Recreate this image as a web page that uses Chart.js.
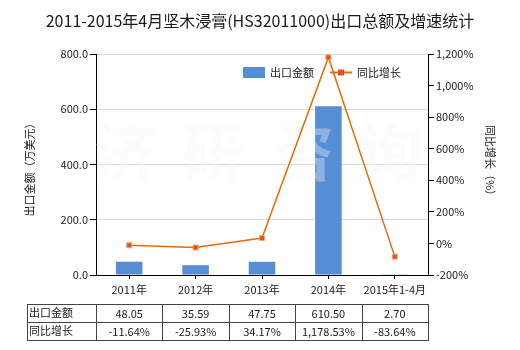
<!DOCTYPE html>
<html>
<head>
<meta charset="utf-8">
<script src="https://cdn.jsdelivr.net/npm/chart.js@4.4.0/dist/chart.umd.min.js"></script>
<style>
  html, body { margin: 0; padding: 0; background: #fff; }
</style>
</head>
<body>
<canvas id="exportChart" width="520" height="350"></canvas>
<script>
const categories = ['2011年', '2012年', '2013年', '2014年', '2015年1-4月'];
const exportValues = [48.05, 35.59, 47.75, 610.50, 2.70];
const growthRates = [-11.64, -25.93, 34.17, 1178.53, -83.64];
const rowNames = ['出口金额', '同比增长'];

const FONT = "'Microsoft YaHei', 'Noto Sans CJK SC', sans-serif";
const BAR_COLOR = '#558ED5';
const LINE_COLOR = '#E46C0A';
const TEXT_COLOR = '#1a1a1a';

function fmtGrowth(v) {
    return v.toLocaleString('en-US', { minimumFractionDigits: 2, maximumFractionDigits: 2 }) + '%';
}

// Title, axis titles, legend, watermark and the data table under the axis
const decorPlugin = {
    id: 'decor',
    afterDatasetDraw(chart, args) {
        if (args.index !== 0) return;
        const ctx = chart.ctx;
        ctx.save();
        ctx.font = 'bold 62px ' + FONT;
        ctx.fillStyle = 'rgba(245, 245, 245, 0.35)';
        ctx.textAlign = 'center';
        ctx.textBaseline = 'middle';
        const marks = ['济', '研', '咨', '询'];
        const xs = [125, 213, 303, 390];
        marks.forEach((m, i) => ctx.fillText(m, xs[i], 152));
        ctx.restore();
    },
    afterDraw(chart) {
        const ctx = chart.ctx;
        const xScale = chart.scales.x;
        ctx.save();

        // title
        ctx.fillStyle = TEXT_COLOR;
        ctx.font = '16px ' + FONT;
        ctx.textAlign = 'center';
        ctx.textBaseline = 'middle';
        ctx.fillText('2011-2015年4月坚木浸膏(HS32011000)出口总额及增速统计', 260, 21);

        // axis titles
        ctx.font = '11px ' + FONT;
        ctx.save();
        ctx.translate(30, 167);
        ctx.rotate(-Math.PI / 2);
        ctx.fillText('出口金额（万美元）', 0, 0);
        ctx.restore();
        ctx.save();
        ctx.translate(490, 163);
        ctx.rotate(Math.PI / 2);
        ctx.fillText('同比增长（%）', 0, 0);
        ctx.restore();

        // legend
        ctx.textAlign = 'left';
        ctx.fillStyle = BAR_COLOR;
        ctx.fillRect(243, 67, 22, 11);
        ctx.fillStyle = TEXT_COLOR;
        ctx.fillText(chart.data.datasets[0].label, 270, 73);
        ctx.strokeStyle = LINE_COLOR;
        ctx.lineWidth = 2;
        ctx.beginPath();
        ctx.moveTo(330, 72.5);
        ctx.lineTo(352, 72.5);
        ctx.stroke();
        ctx.fillStyle = '#E5501A';
        ctx.fillRect(338, 69.5, 6, 6);
        ctx.fillStyle = TEXT_COLOR;
        ctx.fillText(chart.data.datasets[1].label, 357, 73);

        // data table
        const half = (xScale.getPixelForValue(1) - xScale.getPixelForValue(0)) / 2;
        const left = 27;
        const right = Math.round(xScale.getPixelForValue(categories.length - 1) + half);
        const rows = [304, 322, 340];
        ctx.strokeStyle = '#444';
        ctx.lineWidth = 1;
        ctx.beginPath();
        rows.forEach(y => {
            ctx.moveTo(left, y + 0.5);
            ctx.lineTo(right + 1, y + 0.5);
        });
        ctx.moveTo(left + 0.5, rows[0]);
        ctx.lineTo(left + 0.5, rows[2] + 1);
        categories.forEach((c, i) => {
            const edge = Math.round(xScale.getPixelForValue(i) - half) + 0.5;
            ctx.moveTo(edge, rows[0]);
            ctx.lineTo(edge, rows[2] + 1);
        });
        ctx.moveTo(right + 0.5, rows[0]);
        ctx.lineTo(right + 0.5, rows[2] + 1);
        ctx.stroke();

        ctx.fillStyle = TEXT_COLOR;
        ctx.font = '11px ' + FONT;
        ctx.textAlign = 'left';
        rowNames.forEach((name, r) => ctx.fillText(name, 29, rows[r] + 9));
        ctx.textAlign = 'center';
        categories.forEach((c, i) => {
            const cx = xScale.getPixelForValue(i);
            ctx.fillText(exportValues[i].toFixed(2), cx, rows[0] + 10);
            ctx.fillText(fmtGrowth(growthRates[i]), cx, rows[1] + 10);
        });
        ctx.restore();
    }
};

const tickFont = { family: FONT, size: 11 };

new Chart(document.getElementById('exportChart').getContext('2d'), {
    data: {
        labels: categories,
        datasets: [
            {
                type: 'bar',
                label: '出口金额',
                data: exportValues,
                yAxisID: 'y',
                backgroundColor: BAR_COLOR,
                categoryPercentage: 1,
                barPercentage: 0.4,
                order: 2
            },
            {
                type: 'line',
                label: '同比增长',
                data: growthRates,
                yAxisID: 'y1',
                borderColor: LINE_COLOR,
                borderWidth: 1.5,
                pointStyle: 'rect',
                pointRadius: 3.5,
                pointBackgroundColor: '#E5501A',
                pointBorderColor: '#F4A46A',
                pointBorderWidth: 1,
                tension: 0,
                order: 1
            }
        ]
    },
    options: {
        responsive: false,
        animation: false,
        devicePixelRatio: 1,
        layout: { padding: { top: 54, left: 0, right: 0, bottom: 0 } },
        plugins: {
            legend: { display: false },
            tooltip: { enabled: false }
        },
        scales: {
            x: {
                offset: true,
                grid: { drawOnChartArea: false, offset: false, tickLength: 4, tickColor: '#000' },
                border: { color: '#000', width: 1 },
                ticks: { font: tickFont, color: TEXT_COLOR, padding: 4, maxRotation: 0 },
                afterFit: scale => { scale.height = 75; }
            },
            y: {
                position: 'left',
                min: 0,
                max: 800,
                grid: { color: '#d9d9d9', tickColor: '#000', tickLength: 6 },
                border: { color: '#000', width: 1 },
                ticks: {
                    stepSize: 200,
                    font: tickFont,
                    color: TEXT_COLOR,
                    padding: 2,
                    callback: v => v.toFixed(1)
                },
                afterFit: scale => { scale.width = 96; }
            },
            y1: {
                position: 'right',
                min: -200,
                max: 1200,
                grid: { drawOnChartArea: false, tickColor: '#000', tickLength: 6 },
                border: { color: '#000', width: 1 },
                ticks: {
                    stepSize: 200,
                    font: tickFont,
                    color: TEXT_COLOR,
                    padding: 2,
                    callback: v => v.toLocaleString('en-US') + '%'
                },
                afterFit: scale => { scale.width = 92; }
            }
        }
    },
    plugins: [decorPlugin]
});
</script>
</body>
</html>
